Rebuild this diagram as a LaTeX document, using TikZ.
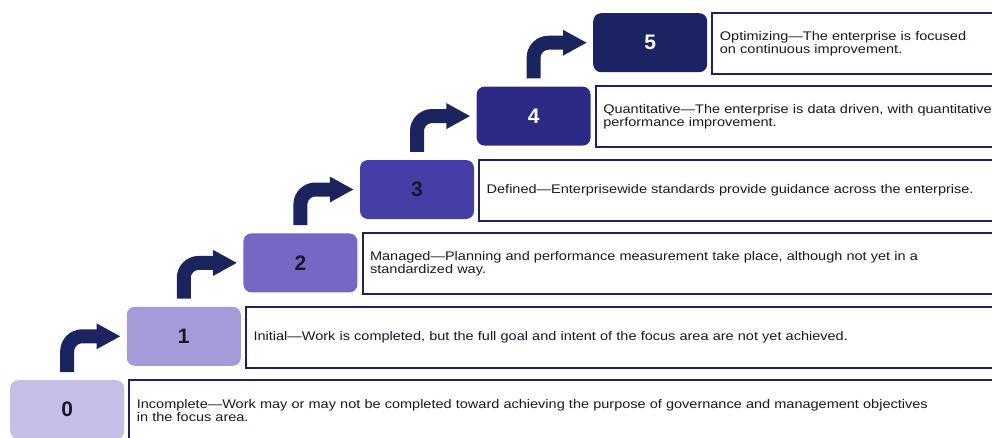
\documentclass[tikz,border=0pt]{standalone}
\usepackage{fontspec}
\setmainfont{Liberation Sans}
\newfontfamily\descfont[FakeStretch=1.16]{Liberation Sans}
\usetikzlibrary{arrows.meta}

\definecolor{lvlA}{HTML}{C4BFE6}
\definecolor{lvlB}{HTML}{A69AD8}
\definecolor{lvlC}{HTML}{7468C4}
\definecolor{lvlD}{HTML}{453EA6}
\definecolor{lvlE}{HTML}{2B2B85}
\definecolor{lvlF}{HTML}{1C2363}
\definecolor{navy}{HTML}{1C2460}
\definecolor{inkdark}{HTML}{1A1826}

\tikzset{
  levelbox/.style={rounded corners=8pt, minimum width=114pt, minimum height=59pt,
    anchor=north west, inner sep=0pt, text=inkdark,
    font=\fontsize{21}{21}\selectfont\bfseries},
  descbox/.style={draw=navy, line width=2pt, fill=white, anchor=north west,
    minimum height=61pt, text width=900pt, align=left, inner xsep=7.5pt, inner ysep=0pt,
    text=inkdark, font=\descfont\fontsize{12.5}{13}\selectfont},
  stepflow/.style={draw=navy, line width=14pt, rounded corners=15pt,
    -{Triangle[length=24pt,width=24pt]}}
}

\begin{document}
\begin{tikzpicture}[x=1pt,y=-1pt]
  \useasboundingbox (0,0) rectangle (992,437);
  \clip (0,0) rectangle (992,437);

  % level boxes
  \node[levelbox, fill=lvlA] (b0) at (10,380) {0};
  \node[levelbox, fill=lvlB] (b1) at (126.6,306.6) {1};
  \node[levelbox, fill=lvlC] (b2) at (243.2,233.2) {2};
  \node[levelbox, fill=lvlD] (b3) at (359.8,159.8) {3};
  \node[levelbox, fill=lvlE, text=white] (b4) at (476.4,86.4) {4};
  \node[levelbox, fill=lvlF, text=white] (b5) at (593,13) {5};

  % descriptions
  \node[descbox] (t0) at ([xshift=4pt,yshift=1pt]b0.north east)
    {Incomplete—Work may or may not be completed toward achieving the purpose of governance and management objectives\\in the focus area.};
  \node[descbox] (t1) at ([xshift=4pt,yshift=1pt]b1.north east)
    {Initial—Work is completed, but the full goal and intent of the focus area are not yet achieved.};
  \node[descbox] (t2) at ([xshift=4pt,yshift=1pt]b2.north east)
    {Managed—Planning and performance measurement take place, although not yet in a\\standardized way.};
  \node[descbox] (t3) at ([xshift=4pt,yshift=1pt]b3.north east)
    {Defined—Enterprisewide standards provide guidance across the enterprise.};
  \node[descbox] (t4) at ([xshift=4pt,yshift=1pt]b4.north east)
    {Quantitative—The enterprise is data driven, with quantitative\\performance improvement.};
  \node[descbox] (t5) at ([xshift=4pt,yshift=1pt]b5.north east)
    {Optimizing—The enterprise is focused\\on continuous improvement.};

  % step arrows
  \foreach \lo/\hi in {b0/b1,b1/b2,b2/b3,b3/b4,b4/b5}
    \draw[stepflow] ([yshift=8pt]\lo.north) |- ([xshift=-6pt]\hi.west);
\end{tikzpicture}
\end{document}
